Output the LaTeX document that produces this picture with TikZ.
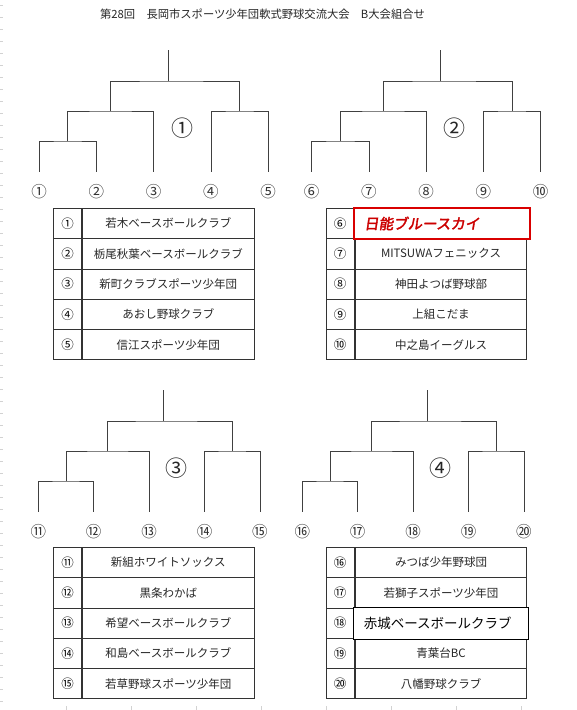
\documentclass[tikz,border=0pt]{standalone}
\usepackage{fontspec}
\setmainfont{Noto Sans CJK JP}
\newfontfamily\redfont[FakeBold=2.5,FakeSlant=0.15]{Noto Sans CJK JP}
\usetikzlibrary{positioning}

\begin{document}
\begin{tikzpicture}[x=1pt,y=-1pt,
      line/.style={draw=black!75,line width=0.8pt},
      tick/.style={draw=gray!35,line width=0.5pt},
      leaf/.style={inner sep=0pt,text=black!80,font=\fontsize{15.5}{15.5}\selectfont},
      grp/.style={inner sep=0pt,text=black!85,font=\fontsize{22}{22}\selectfont},
      numcell/.style={draw=black!80,line width=0.8pt,minimum width=28.4pt,minimum height=30.3pt,inner sep=0pt,font=\fontsize{12.5}{12.5}\selectfont},
      namecell/.style={draw=black!80,line width=0.8pt,minimum width=171.6pt,minimum height=30.3pt,inner sep=0pt,text=black!85,font=\fontsize{11.5}{11.5}\selectfont},
      redbox/.style={draw=red!85!black,line width=2.2pt,fill=white,minimum height=31pt,inner xsep=10.5pt,text width=155pt,align=left,text=red!80!black,font=\redfont\fontsize{14.5}{14.5}\selectfont},
      fixbox/.style={draw=black,line width=0.8pt,fill=white,minimum height=31.7pt,inner xsep=11pt,text width=153pt,align=left,font=\fontsize{13.5}{13.5}\selectfont}]
    \useasboundingbox (0,0) rectangle (577,710);
    \foreach \yy in {5,17,...,705} {
      \draw[tick] (0,\yy) -- (3,\yy);
    }
    \foreach \xx in {66.7,131.7,...,522} {
      \draw[tick] (\xx,706) -- (\xx,710);
    }
    \node[font=\fontsize{11.3}{11.3}\selectfont,text=black!85] (title) at (262.5,14) {第28回　長岡市スポーツ少年団軟式野球交流大会　B大会組合せ};
    \foreach \g/\x/\y/\s in {1/39/50/57.3, 2/311.7/50/57.25, 3/38.3/390/55.4, 4/302.3/390/55.4} {
      \foreach \j in {1,...,5} {
        \coordinate (g\g-\j) at ({\x+(\j-1)*\s},\y+121.7);
        \pgfmathtruncatemacro{\n}{(\g-1)*5+\j}
        \node[leaf] (l\n) at ({\x+(\j-1)*\s},\y+141.7) {\char\numexpr"245F+\n\relax};
      }
      \coordinate (a\g) at ({\x+0.5*\s},\y+91);
      \coordinate (b\g) at ({\x+1.25*\s},\y+61);
      \coordinate (c\g) at ({\x+3.5*\s},\y+61);
      \coordinate (t\g) at ({\x+2.25*\s},\y+31);
      \coordinate (r\g) at ({\x+2.25*\s},\y);
      \draw[line] (g\g-1) |- (a\g) -| (g\g-2);
      \draw[line] (a\g) |- (b\g) -| (g\g-3);
      \draw[line] (g\g-4) |- (c\g) -| (g\g-5);
      \draw[line] (b\g) |- (t\g) -| (c\g);
      \draw[line] (t\g) -- (r\g);
      \node[grp] (G\g) at ({\x+2.5*\s},\y+78) {\char\numexpr"245F+\g\relax};
    }
    \foreach \i/\team in {1/若木ベースボールクラブ, 2/栃尾秋葉ベースボールクラブ, 3/新町クラブスポーツ少年団, 4/あおし野球クラブ, 5/信江スポーツ少年団,
        6/{}, 7/MITSUWAフェニックス, 8/神田よつば野球部, 9/上組こだま, 10/中之島イーグルス,
        11/新組ホワイトソックス, 12/黒条わかば, 13/希望ベースボールクラブ, 14/和島ベースボールクラブ, 15/若草野球スポーツ少年団,
        16/みつば少年野球団, 17/若獅子スポーツ少年団, 18/{}, 19/青葉台BC, 20/八幡野球クラブ} {
      \pgfmathtruncatemacro{\g}{(\i-1)/5}
      \pgfmathsetmacro{\tx}{53.3+272.7*mod(\g,2)}
      \pgfmathsetmacro{\ty}{208.3+339*int(\g/2)+30.3*(mod(\i-1,5)+0.5)}
      \node[numcell] (k\i) at (\tx+14.2,\ty) {\char\numexpr"245F+\i\relax};
      \node[namecell,right=0pt of k\i] (m\i) {\team};
    }
    \node[redbox] (hl6) at ([xshift=0.8pt]m6.center) {日能ブルースカイ};
    \node[fixbox] (hl18) at ([xshift=-0.6pt]m18.center) {赤城ベースボールクラブ};
  \end{tikzpicture}
\end{document}
